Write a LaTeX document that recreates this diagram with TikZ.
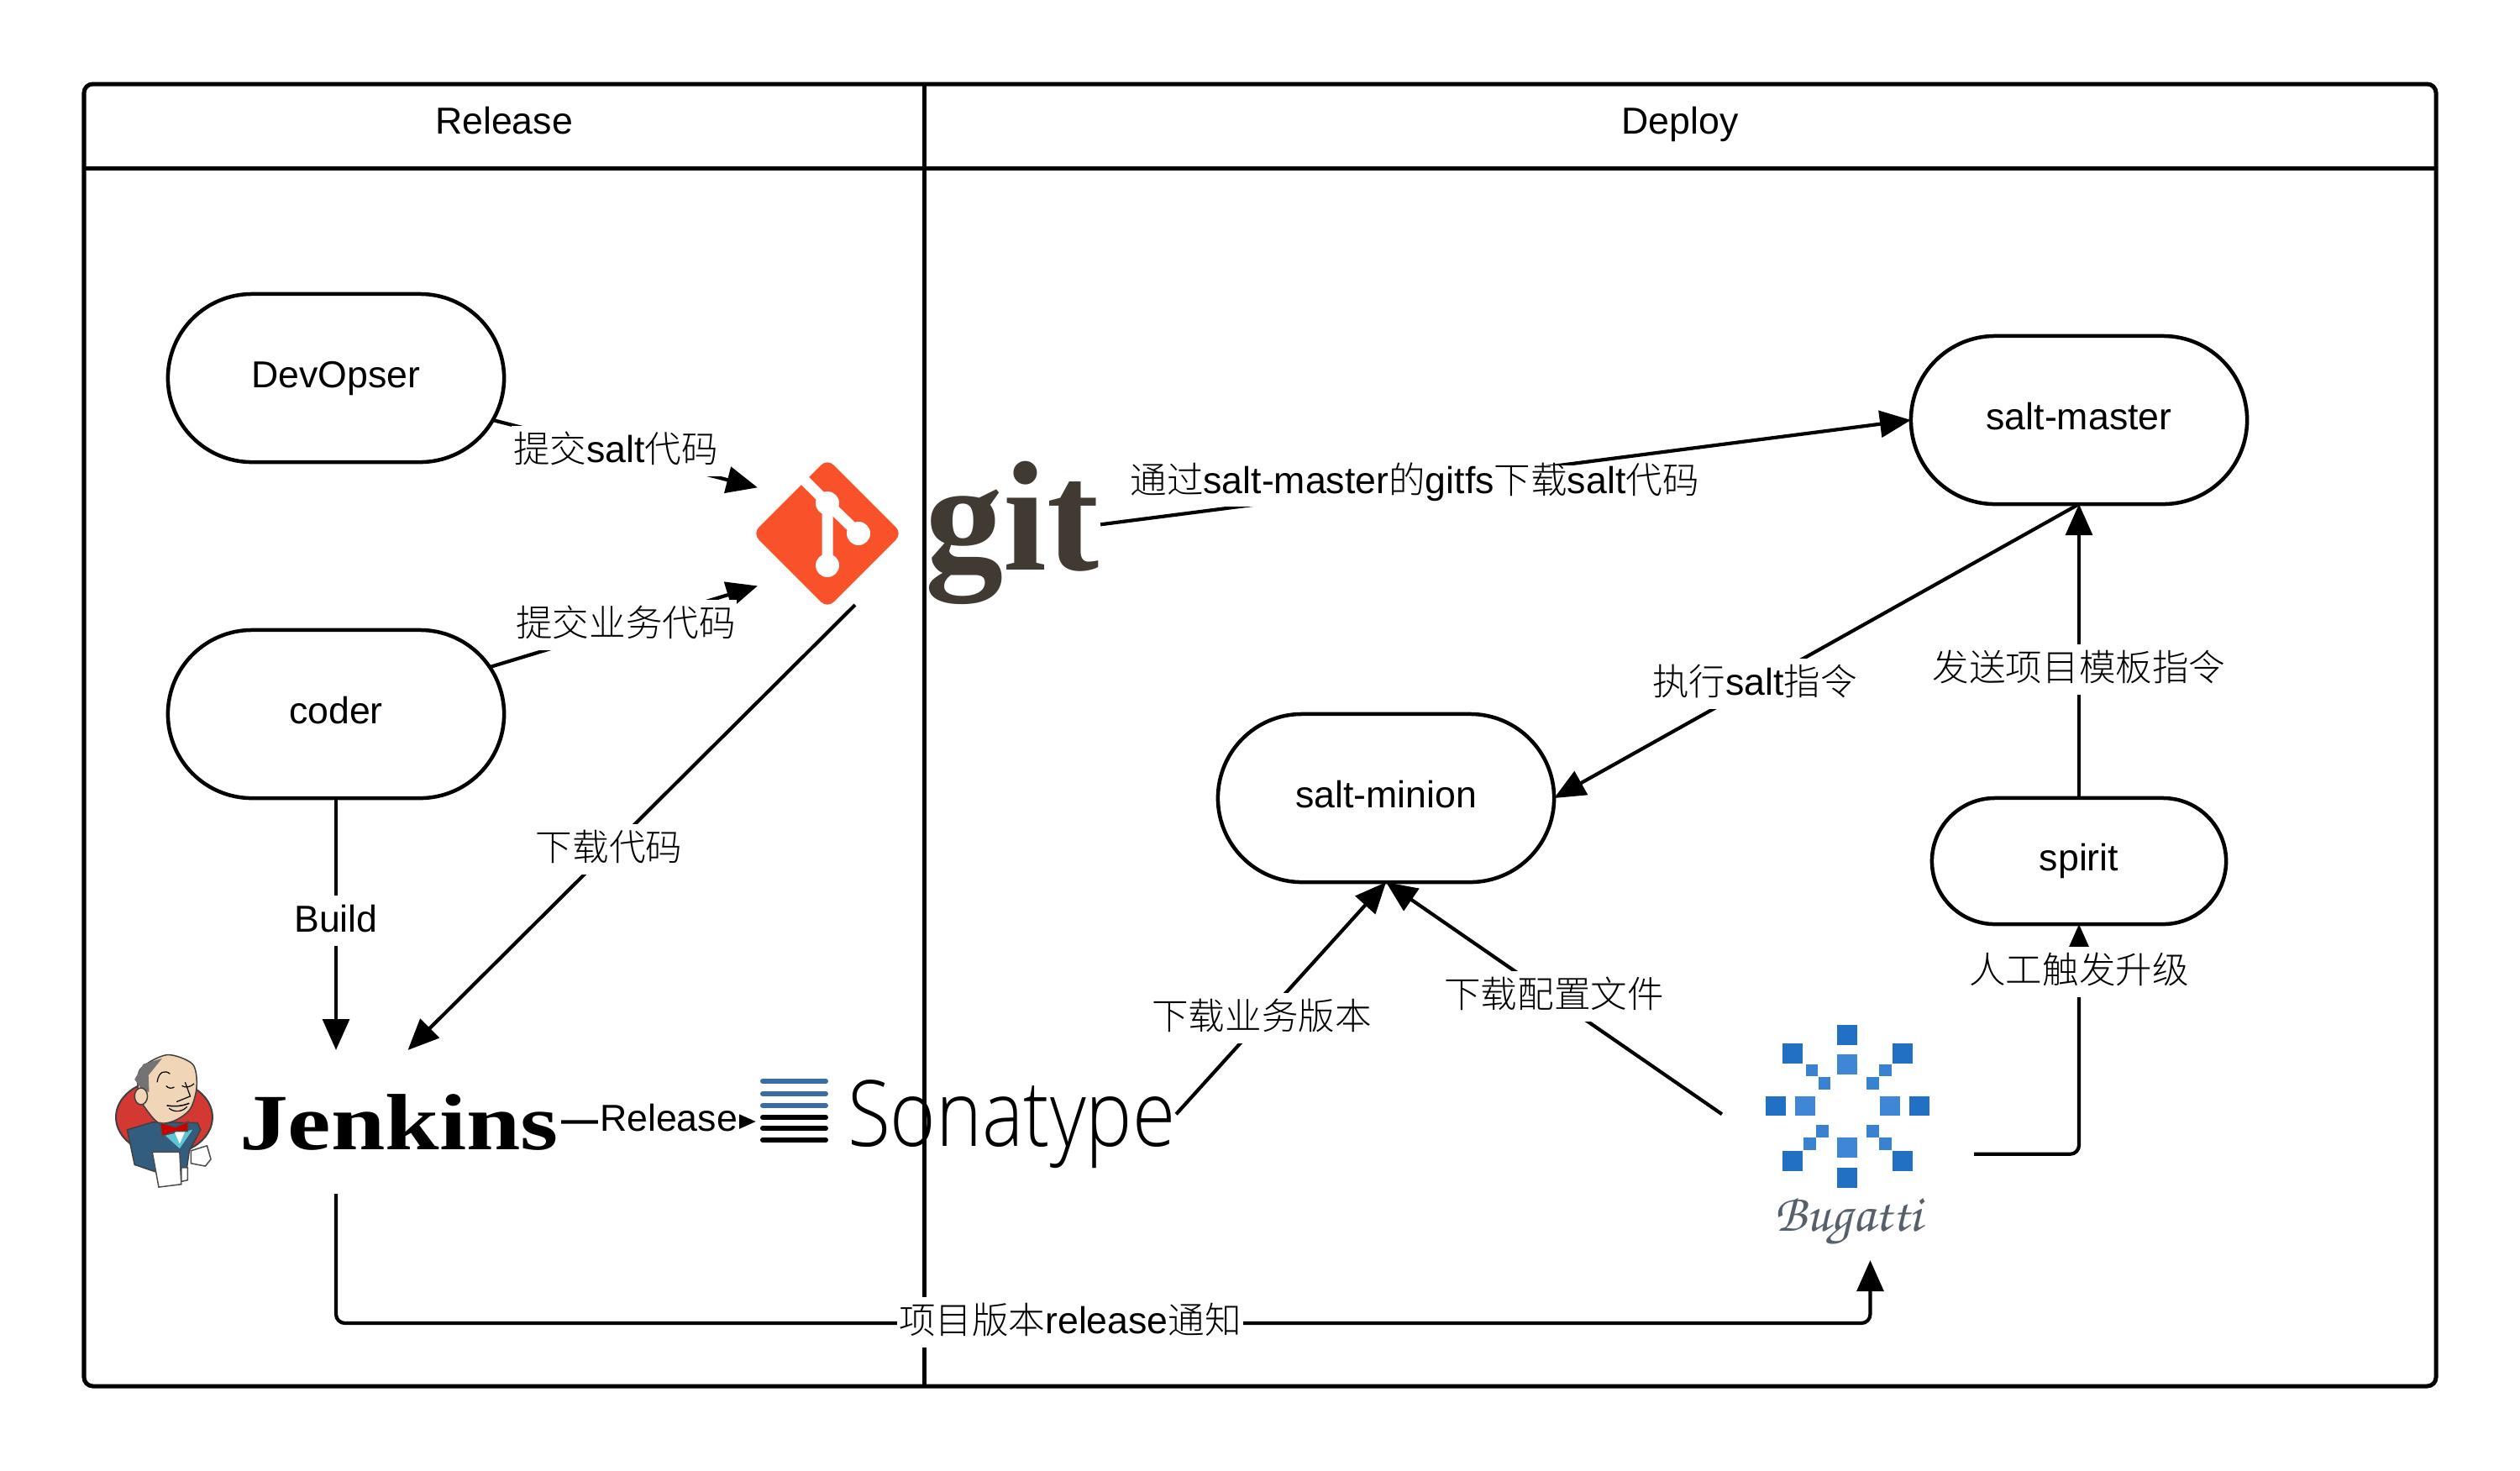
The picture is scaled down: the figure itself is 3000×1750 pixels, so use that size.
\documentclass[tikz,border=0pt]{standalone}
\usepackage{fontspec}
\usepackage{xcolor}
\usetikzlibrary{arrows.meta}
\usetikzlibrary{shapes.misc}
\newfontfamily\labelfont{Liberation Sans}
\newfontfamily\cjk[Scale=0.975]{Noto Sans CJK SC Light}
\newfontfamily\logoserif{Liberation Serif}
\newfontfamily\sonafont{Open Sans Light}
\newcommand{\zh}[1]{{\cjk #1}}
\definecolor{gitred}{HTML}{F9522A}
\definecolor{gitbrown}{HTML}{413A33}
\definecolor{sonablue}{HTML}{3A6CA6}
\definecolor{bugdark}{HTML}{2270C4}
\definecolor{buglight}{HTML}{3F86D6}
\definecolor{buggrey}{HTML}{56606A}
\definecolor{jenkred}{HTML}{D33833}
\definecolor{jenkblue}{HTML}{335D7E}
\definecolor{jenkskin}{HTML}{F0D6B7}
\tikzset{
  >={Triangle[length=10.5pt,width=9pt]},
  lanetxt/.style={font=\labelfont\fontsize{12.7}{15}\selectfont,text height=9.3pt,text depth=2.7pt},
  pill/.style={draw,rounded rectangle,line width=0.045cm,inner sep=0pt,outer sep=0pt,
    minimum width=4cm,minimum height=2cm,lanetxt},
  logobox/.style={inner sep=0pt,outer sep=0pt},
  edgelbl/.style={font=\labelfont\fontsize{12.7}{15}\selectfont,fill=white,inner xsep=0.5pt,inner ysep=0pt,
    text height=12.2pt,text depth=4.8pt},
  conn/.style={->,line width=0.042cm},
}
\begin{document}
\begin{tikzpicture}[x=0.01cm,y=-0.01cm]
\useasboundingbox (0,0) rectangle (3000,1750);
\draw[line width=0.05cm,rounded corners=3pt] (100,100) rectangle (2900,1650);
\draw[line width=0.05cm] (100,200) -- (2900,200);
\draw[line width=0.05cm] (1100,100) -- (1100,1650);
\node[lanetxt] (releasehead) at (600,148) {Release};
\node[lanetxt] (deployhead) at (2000,148) {Deploy};

\node[pill] (devopser) at (400,450) {DevOpser};
\node[pill] (coder) at (400,850) {coder};
\node[pill] (saltmaster) at (2475,500) {salt-master};
\node[pill] (saltminion) at (1650,950) {salt-minion};
\node[pill,minimum width=3.5cm,minimum height=1.5cm] (spirit) at (2475,1025) {spirit};

% git logo
\fill[gitred,rounded corners=3pt] (985,546) -- (1074,635) -- (985,724) -- (896,635) -- cycle;
\draw[white,line width=0.13cm] (958,572) -- (985,599) -- (985,673);
\draw[white,line width=0.13cm] (985,599) -- (1022,635);
\fill[white] (985,599) circle (14) (985,673) circle (14) (1022,635) circle (14);
\node[logobox,anchor=base west,text=gitbrown,font=\logoserif\bfseries\fontsize{53}{55}\selectfont] (gittxt) at (1101,678) {git};
\node[logobox,minimum width=4.08cm,minimum height=1.7cm] (gitbox) at (1106,635) {};

% jenkins logo
\begin{scope}[shift={(120,1230)},x=0.00383cm,y=-0.00333cm]
\draw[fill=jenkred,draw=black!75,line width=0.02cm] (197,300) ellipse (150 and 133);
\draw[fill=jenkblue,draw=black!75,line width=0.015cm] (82,345) -- (160,318) -- (300,320) -- (310,345) -- (275,420) -- (265,500) -- (170,495) -- (105,470) -- cycle;
\fill[jenkblue!50!cyan!70!white] (200,365) -- (285,345) -- (245,412) -- cycle;
\fill[white] (228,350) -- (262,350) -- (245,395) -- cycle;
\draw[fill=jenkskin,draw=black!75,line width=0.015cm] plot[smooth cycle] coordinates {(122,130) (205,77) (285,110) (298,190) (278,270) (230,312) (180,320) (140,270) (118,220)};
\fill[black!55] (132,110) -- (105,165) -- (130,205) -- (150,210) -- (148,150) -- (190,90) -- cycle;
\draw[fill=jenkskin,draw=black!75,line width=0.015cm] (125,225) ellipse (20 and 30);
\draw[line width=0.012cm] (175,175) .. controls (180,135) and (200,130) .. (215,145);
\draw[line width=0.012cm] (203,188) .. controls (210,198) and (222,198) .. (228,192);
\draw[line width=0.012cm] (252,187) .. controls (260,195) and (275,195) .. (290,180);
\draw[line width=0.012cm] (262,175) -- (278,225) -- (235,245);
\draw[line width=0.015cm] (205,258) .. controls (225,262) and (250,262) .. (275,250);
\draw[line width=0.012cm] (212,268) .. controls (230,285) and (255,280) .. (268,262);
\draw[fill=red!80!black,draw=black!70,line width=0.015cm] (185,320) -- (232,335) -- (272,315) -- (270,350) -- (235,350) -- (190,367) -- cycle;
\draw[fill=white,draw=black!70,line width=0.015cm] (160,425) -- (245,425) -- (250,540) -- (180,550) -- cycle;
\draw[fill=white,draw=black!70,line width=0.015cm] (250,480) -- (270,480) -- (270,525) -- (250,530) -- cycle;
\draw[fill=white,draw=black!70,line width=0.015cm] (280,420) -- (330,402) -- (342,450) -- (325,475) -- (280,465) -- cycle;
\end{scope}
\node[logobox,anchor=base west,xscale=1.22,font=\logoserif\bfseries\fontsize{27}{30}\selectfont] (jenkinstxt) at (285,1368) {Jenkins};
\node[logobox,minimum width=5.36cm,minimum height=1.71cm] (jenkinsbox) at (400,1335.5) {};

% sonatype logo
\foreach \ybar/\barcol in {1287/sonablue,1302/sonablue,1316/sonablue,1330/black,1343/black,1357/black}
  \draw[\barcol,line width=0.06cm,line cap=round] (908,\ybar) -- (983,\ybar);
\node[logobox,anchor=base west,xscale=0.855,font=\sonafont\fontsize{31}{33}\selectfont] (sonatxt) at (1009,1364) {Sonatype};
\node[logobox,minimum width=5cm,minimum height=1.6cm] (sonabox) at (1150,1335) {};

% bugatti logo
\begin{scope}[shift={(2060,1190)},x=0.00333cm,y=-0.00333cm]
\foreach \cx/\cy in {419/125,163/380,675/380,419/637,223/192,615/192,223/577,615/577}
  \fill[bugdark] ({\cx-36},{\cy-36}) rectangle ({\cx+36},{\cy+36});
\foreach \cx/\cy in {419/230,268/380,570/380,419/530}
  \fill[buglight] ({\cx-36},{\cy-36}) rectangle ({\cx+36},{\cy+36});
\foreach \cx/\cy in {291/252,336/298,554/252,510/298,329/471,284/516,510/471,554/516}
  \fill[buglight!80!bugdark] ({\cx-22},{\cy-22}) rectangle ({\cx+22},{\cy+22});
\end{scope}
\node[logobox,anchor=base,text=buggrey,font=\fontencoding{T1}\fontfamily{pzc}\fontseries{m}\fontshape{it}\fontsize{18}{20}\selectfont] (bugattitxt) at (2200,1465) {Bugatti};
\node[logobox,minimum width=3cm,minimum height=3cm] (bugattibox) at (2200,1350) {};

\draw[conn] (devopser.-15.6) -- (gitbox.165.7);
\draw[conn] (coder.17.4) -- (gitbox.197.2);
\draw[conn] (gitbox.224.7) -- (jenkinsbox.45.5);
\draw[conn] (coder.south) -- (jenkinsbox.north);
\draw[conn] (jenkinsbox.east) -- (sonabox.west);
\draw[conn] (gitbox.3.1) -- (saltmaster.west);
\draw[conn] (saltmaster.south) -- (saltminion.east);
\draw[conn] (spirit.north) -- (saltmaster.south);
\draw[conn,rounded corners=3pt] (bugattibox.-9.5) -| (spirit.south);
\draw[conn] (sonabox.2) -- (saltminion.south);
\draw[conn] (bugattibox.171) -- (saltminion.south);
\coordinate (notifyrail) at (400,1575);
\draw[conn,rounded corners=3pt] (jenkinsbox.south) -- (notifyrail) -| (bugattibox.-80.5);

\node[edgelbl] (lbldevgit) at (733,537) {\zh{提交}salt\zh{代码}};
\node[edgelbl] (lblcodegit) at (745,744) {\zh{提交业务代码}};
\node[edgelbl] (lblgetcode) at (725,1011) {\zh{下载代码}};
\node[edgelbl] (lblbuild) at (400,1096) {Build};
\node[edgelbl] (lblrelease) at (796,1333) {Release};
\node[edgelbl,text height=9.5pt,text depth=4.5pt] (lblgitfs) at (1684,578.6) {\zh{通过}salt-master\zh{的}gitfs\zh{下载}salt\zh{代码}};
\node[edgelbl] (lblexec) at (2089,814) {\zh{执行}salt\zh{指令}};
\node[edgelbl] (lblsend) at (2475,797) {\zh{发送项目模板指令}};
\node[edgelbl] (lbltrigger) at (2475,1157) {\zh{人工触发升级}};
\node[edgelbl] (lblgetver) at (1502,1212) {\zh{下载业务版本}};
\node[edgelbl] (lblgetconf) at (1850,1186) {\zh{下载配置文件}};
\node[edgelbl] (lblnotify) at (1274,1574) {\zh{项目版本}release\zh{通知}};
\end{tikzpicture}
\end{document}
